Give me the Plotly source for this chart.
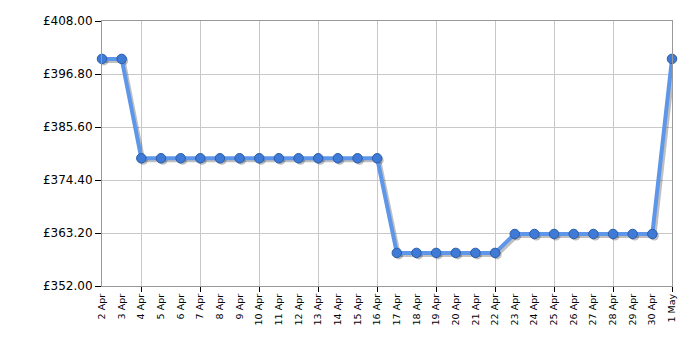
import plotly.graph_objects as go

dates = ["2 Apr", "3 Apr", "4 Apr", "5 Apr", "6 Apr", "7 Apr", "8 Apr", "9 Apr", "10 Apr",
         "11 Apr", "12 Apr", "13 Apr", "14 Apr", "15 Apr", "16 Apr", "17 Apr", "18 Apr",
         "19 Apr", "20 Apr", "21 Apr", "22 Apr", "23 Apr", "24 Apr", "25 Apr", "26 Apr",
         "27 Apr", "28 Apr", "29 Apr", "30 Apr", "1 May"]
prices = [399.99, 399.99, 378.99, 378.99, 378.99, 378.99, 378.99, 378.99, 378.99,
          378.99, 378.99, 378.99, 378.99, 378.99, 378.99, 358.99, 358.99,
          358.99, 358.99, 358.99, 358.99, 362.99, 362.99, 362.99, 362.99,
          362.99, 362.99, 362.99, 362.99, 399.99]
y_ticks = [352.0, 363.2, 374.4, 385.6, 396.8, 408.0]
y_labels = ["£%.2f" % v for v in y_ticks]
grid_dates = ["4 Apr", "7 Apr", "10 Apr", "13 Apr", "16 Apr", "19 Apr", "22 Apr", "25 Apr", "28 Apr", "1 May"]

W, H = 700, 350
L, R, T, B = 102, 28, 21, 64
pw, ph = W - L - R, H - T - B
dx, dy = 2.0, 2.0

n = len(dates) - 1
xr = [0, n]
yr = [y_ticks[0], y_ticks[-1]]
sx = dx * n / pw
sy = dy * (yr[1] - yr[0]) / ph

fig = go.Figure()
# invisible carrier so the grid axes are drawn
fig.add_trace(go.Scatter(x=dates, y=prices, xaxis="x", yaxis="y", mode="lines",
                         line=dict(color="rgba(0,0,0,0)", width=0), hoverinfo="skip", showlegend=False))
# shadow
fig.add_trace(go.Scatter(x=dates, y=prices, xaxis="x2", yaxis="y2", mode="lines+markers",
                         line=dict(color="rgba(0,0,0,0.25)", width=4),
                         marker=dict(size=9, color="rgba(0,0,0,0.25)"),
                         hoverinfo="skip", showlegend=False, cliponaxis=False))
# main (on the label axis, drawn above the shadow)
fig.add_trace(go.Scatter(x=dates, y=prices, xaxis="x3", yaxis="y", mode="lines+markers",
                         line=dict(color="#5e96ea", width=4),
                         marker=dict(size=9.5, color="#3f7bd6", line=dict(color="#2b5ca8", width=1)),
                         showlegend=False, cliponaxis=False))

common_x = dict(type="category", categoryorder="array", categoryarray=dates)
fig.update_layout(
    width=W, height=H,
    margin=dict(l=L, r=R, t=T, b=B, pad=0),
    paper_bgcolor="white", plot_bgcolor="white",
    font=dict(family="DejaVu Sans, Verdana, sans-serif", color="black"),
    xaxis=dict(**common_x, range=xr, domain=[0, 1], tickmode="array", tickvals=grid_dates,
               showticklabels=False, ticks="outside", ticklen=5, tickcolor="black",
               showgrid=True, gridcolor="#c8c8c8", gridwidth=1,
               showline=True, linecolor="#999999", linewidth=1, mirror=True, zeroline=False),
    xaxis3=dict(**common_x, range=xr, overlaying="x", anchor="y", tickmode="array", tickvals=dates, ticktext=dates,
                tickangle=-90, tickfont=dict(size=9.5), ticks="", showgrid=False, showline=False,
                zeroline=False, ticklabelstandoff=5),
    yaxis=dict(range=yr, tickmode="array", tickvals=y_ticks, ticktext=y_labels,
               tickfont=dict(size=12), ticks="outside", ticklen=6, tickcolor="black",
               showgrid=True, gridcolor="#c8c8c8", gridwidth=1,
               showline=True, linecolor="#999999", linewidth=1, mirror=True, zeroline=False),
    xaxis2=dict(**common_x, range=[xr[0] - sx, xr[1] - sx], anchor="y2", visible=False, overlaying="x"),
    yaxis2=dict(range=[yr[0] + sy, yr[1] + sy], anchor="x2", visible=False, overlaying="y"),
)

fig.write_html("out.html")
